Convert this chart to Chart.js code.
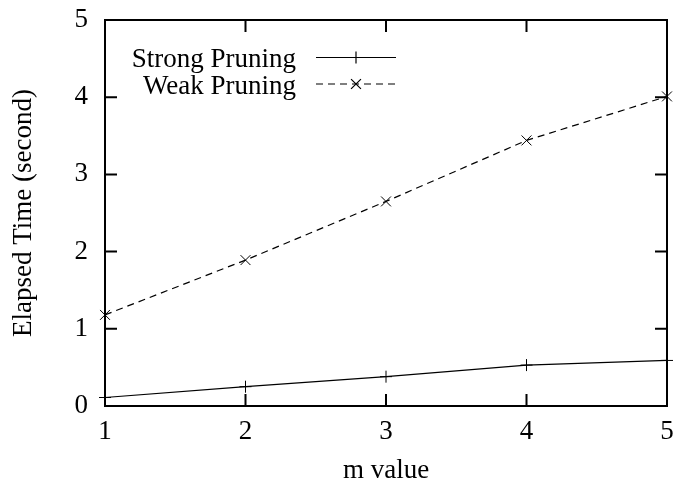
<!DOCTYPE html>
<html><head><meta charset="utf-8">
<script src="https://cdn.jsdelivr.net/npm/chart.js@4/dist/chart.umd.min.js"></script>
<style>html,body{margin:0;padding:0;background:#fff;} canvas{display:block;}</style>
</head><body>
<canvas id="c" width="678" height="487"></canvas>
<script>
const mValues = [1, 2, 3, 4, 5];
const strongPruning = [0.11, 0.25, 0.38, 0.53, 0.59];
const weakPruning = [1.18, 1.89, 2.65, 3.44, 4.01];
const yTicks = [0, 1, 2, 3, 4, 5];
const seriesLabels = ['Strong Pruning', 'Weak Pruning'];
const xTitle = 'm value';
const yTitle = 'Elapsed Time (second)';

const FONT = '"Liberation Serif", "Times New Roman", serif';
const FS = 27;

function toPoints(xs, ys) { return xs.map((x, i) => ({ x: x, y: ys[i] })); }
function zeroPad(s) { s.paddingTop = 0; s.paddingBottom = 0; s.paddingLeft = 0; s.paddingRight = 0; }

const framePlugin = {
  id: 'frame',
  beforeDatasetsDraw(chart) {
    const { ctx, chartArea: a, scales: { x, y } } = chart;
    ctx.save();
    ctx.strokeStyle = '#000';
    ctx.lineWidth = 2;
    ctx.strokeRect(a.left, a.top, a.right - a.left, a.bottom - a.top);
    const L = 12;
    ctx.beginPath();
    mValues.forEach(v => {
      const px = x.getPixelForValue(v);
      ctx.moveTo(px, a.bottom); ctx.lineTo(px, a.bottom - L);
      ctx.moveTo(px, a.top); ctx.lineTo(px, a.top + L);
    });
    yTicks.forEach(v => {
      const py = y.getPixelForValue(v);
      ctx.moveTo(a.left, py); ctx.lineTo(a.left + L, py);
      ctx.moveTo(a.right, py); ctx.lineTo(a.right - L, py);
    });
    ctx.stroke();
    ctx.restore();
  }
};

function drawMarker(ctx, style, r, cx, cy) {
  ctx.beginPath();
  if (style === 'cross') {
    ctx.moveTo(cx - r, cy); ctx.lineTo(cx + r, cy);
    ctx.moveTo(cx, cy - r); ctx.lineTo(cx, cy + r);
  } else {
    const d = r * Math.SQRT1_2;
    ctx.moveTo(cx - d, cy - d); ctx.lineTo(cx + d, cy + d);
    ctx.moveTo(cx - d, cy + d); ctx.lineTo(cx + d, cy - d);
  }
  ctx.stroke();
}

const legendPlugin = {
  id: 'insideLegend',
  afterDatasetsDraw(chart) {
    const ctx = chart.ctx;
    const textRight = 296, x0 = 316, x1 = 396, rows = [57.5, 84];
    ctx.save();
    ctx.font = FS + 'px ' + FONT;
    ctx.fillStyle = '#000';
    ctx.textAlign = 'right';
    ctx.textBaseline = 'alphabetic';
    chart.data.datasets.forEach((ds, i) => {
      const yy = rows[i];
      ctx.fillText(ds.label, textRight, yy + 9.5);
      ctx.strokeStyle = ds.borderColor;
      ctx.lineWidth = ds.borderWidth;
      ctx.setLineDash(ds.borderDash || []);
      ctx.beginPath(); ctx.moveTo(x0, yy); ctx.lineTo(x1, yy); ctx.stroke();
      ctx.setLineDash([]);
      drawMarker(ctx, ds.pointStyle, ds.pointRadius, (x0 + x1) / 2, yy);
    });
    ctx.restore();
  }
};

new Chart(document.getElementById('c'), {
  type: 'line',
  data: {
    datasets: [
      {
        label: seriesLabels[0],
        data: toPoints(mValues, strongPruning),
        borderColor: '#000', borderWidth: 1.2, fill: false, tension: 0,
        pointStyle: 'cross', pointRadius: 6, pointBorderColor: '#000',
        pointBorderWidth: 1, pointBackgroundColor: '#000', clip: false
      },
      {
        label: seriesLabels[1],
        data: toPoints(mValues, weakPruning),
        borderColor: '#000', borderWidth: 1.2, borderDash: [7, 5], fill: false, tension: 0,
        pointStyle: 'crossRot', pointRadius: 7, pointBorderColor: '#000',
        pointBorderWidth: 1, pointBackgroundColor: '#000', clip: false
      }
    ]
  },
  options: {
    responsive: false,
    animation: false,
    devicePixelRatio: 1,
    layout: { padding: { top: 20, right: 11, left: 0, bottom: 0 } },
    plugins: { legend: { display: false }, tooltip: { enabled: false } },
    scales: {
      x: {
        type: 'linear', min: 1, max: 5,
        grid: { display: false, drawTicks: false },
        border: { display: false },
        ticks: { stepSize: 1, color: '#000', padding: 10, maxRotation: 0, autoSkip: false,
                 font: { family: FONT, size: FS } },
        title: { display: true, text: xTitle, color: '#000', padding: { top: 0, bottom: 0 },
                 font: { family: FONT, size: FS } },
        afterFit(s) { s.height = 81; zeroPad(s); }
      },
      y: {
        type: 'linear', min: 0, max: 5,
        grid: { display: false, drawTicks: false },
        border: { display: false },
        ticks: { stepSize: 1, color: '#000', padding: 17,
                 font: { family: FONT, size: FS } },
        title: { display: true, text: yTitle, color: '#000', padding: { top: 8, bottom: 0 },
                 font: { family: FONT, size: FS } },
        afterFit(s) { s.width = 105; zeroPad(s); }
      }
    }
  },
  plugins: [framePlugin, legendPlugin]
});
</script>
</body></html>
